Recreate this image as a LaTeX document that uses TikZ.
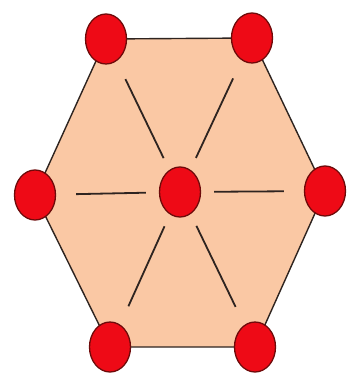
\documentclass[tikz,border=0pt]{standalone}
\usepackage{tikz}
\usetikzlibrary{backgrounds,shapes.geometric}
\definecolor{CellFill}{HTML}{FAC8A4}
\definecolor{AtomRed}{HTML}{EE0A16}
\definecolor{AtomEdge}{HTML}{6E0A0A}
\definecolor{BondLine}{HTML}{2E2420}
\tikzset{
  atom/.style={ellipse,draw=AtomEdge,line width=1.3pt,fill=AtomRed,
    minimum width=41pt,minimum height=50pt,inner sep=0pt},
  cell/.style={draw=BondLine,line width=1.4pt,fill=CellFill,line join=round},
  spoke/.style={draw=BondLine,line width=1.8pt,shorten <=13pt,shorten >=20pt}
}

\begin{document}
\begin{tikzpicture}[x=1pt,y=-1pt]
  \useasboundingbox (0,0) rectangle (357,382);
  \node[atom] (mid) at (180,192) {};
  \node[atom] (tl) at (106,39) {};
  \node[atom] (tr) at (252,38) {};
  \node[atom] (r) at (325,191) {};
  \node[atom] (br) at (255,347) {};
  \node[atom] (bl) at (110,347) {};
  \node[atom] (l) at (35,195) {};

  \begin{scope}[on background layer]
    \draw[cell] (tl.center) -- (tr.center) -- (r.center) -- (br.center)
      -- (bl.center) -- (l.center) -- cycle;
    \foreach \v in {tl,tr,r,br,bl,l}
      \draw[spoke] (mid) -- (\v);
  \end{scope}
\end{tikzpicture}
\end{document}
